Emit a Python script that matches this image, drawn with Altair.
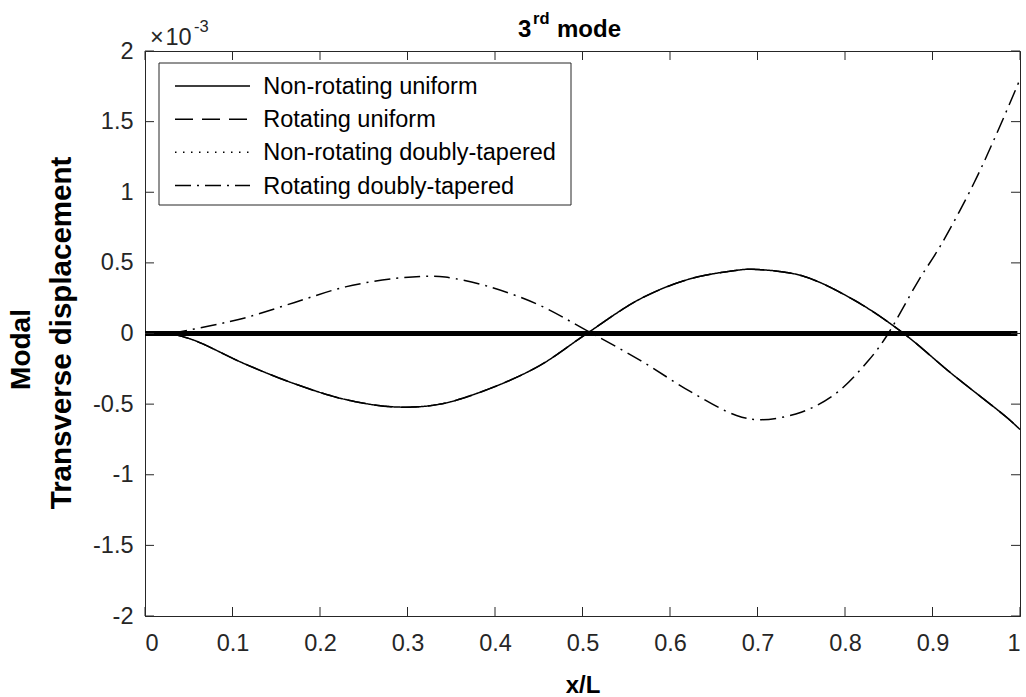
import altair as alt
import pandas as pd

# ---------------- data ----------------
series_names = ["Non-rotating uniform", "Rotating uniform",
                "Non-rotating doubly-tapered", "Rotating doubly-tapered"]
series_dashes = [[1, 0], [18, 9], [1.5, 6.5], [16, 6, 2, 6]]

# uniform beam (non-rotating and rotating curves coincide)
x_uniform = [0.03, 0.057, 0.114, 0.171, 0.229, 0.286, 0.337, 0.394, 0.451, 0.505,
             0.566, 0.623, 0.68, 0.693, 0.75, 0.808, 0.865, 0.922, 0.986, 1.0]
y_nonrot_uniform = [0.0, -0.05, -0.215, -0.356, -0.467, -0.52, -0.50, -0.39, -0.227, 0.0,
                    0.245, 0.387, 0.45, 0.455, 0.41, 0.245, 0.01, -0.285, -0.60, -0.68]
y_rot_uniform = [0.0, -0.05, -0.215, -0.356, -0.467, -0.52, -0.50, -0.39, -0.227, 0.0,
                 0.245, 0.387, 0.45, 0.455, 0.41, 0.245, 0.01, -0.285, -0.60, -0.68]

# rotating doubly-tapered beam
x_rot_tapered = [0.03, 0.076, 0.114, 0.171, 0.229, 0.286, 0.324, 0.343, 0.394, 0.451,
                 0.505, 0.566, 0.623, 0.676, 0.705, 0.75, 0.789, 0.827, 0.848, 0.884,
                 0.909, 0.947, 0.973, 1.0]
y_rot_tapered = [0.0, 0.057, 0.11, 0.22, 0.33, 0.39, 0.406, 0.40, 0.33, 0.2,
                 0.02, -0.19, -0.41, -0.58, -0.61, -0.557, -0.427, -0.19, -0.014, 0.375,
                 0.62, 1.06, 1.41, 1.80]

# thick line lying on zero
x_zero = [0.0, 0.997]
y_zero = [0.0, 0.0]

x_ticks = [0, 0.1, 0.2, 0.3, 0.4, 0.5, 0.6, 0.7, 0.8, 0.9, 1]
y_ticks = [-2, -1.5, -1, -0.5, 0, 0.5, 1, 1.5, 2]

# ---------------- layout constants ----------------
W, H = 875, 565
FONT = "Liberation Sans"
INK = "#262626"
TICK_LEN = 9

rows = []
for xv, yv in zip(x_uniform, y_nonrot_uniform):
    rows.append({"x": xv, "y": yv, "series": series_names[0]})
for xv, yv in zip(x_uniform, y_rot_uniform):
    rows.append({"x": xv, "y": yv, "series": series_names[1]})
for xv, yv in zip(x_rot_tapered, y_rot_tapered):
    rows.append({"x": xv, "y": yv, "series": series_names[3]})
df = pd.DataFrame(rows)

x_scale = alt.Scale(domain=[0, 1], nice=False, zero=False)
y_scale = alt.Scale(domain=[-2, 2], nice=False, zero=False)
x_axis = alt.Axis(values=x_ticks, labelExpr="'' + datum.value", title="x/L",
                  titleY=69, titleBaseline="middle", labelPadding=15)
y_axis = alt.Axis(values=y_ticks, labelExpr="'' + datum.value", title="",
                  labelPadding=12)

X = alt.X("x:Q", scale=x_scale, axis=x_axis)
Y = alt.Y("y:Q", scale=y_scale, axis=y_axis)

lines = alt.Chart(df).mark_line(strokeWidth=1.5, color="black",
                                interpolate="catmull-rom").encode(
    x=X, y=Y,
    strokeDash=alt.StrokeDash("series:N",
                              scale=alt.Scale(domain=series_names, range=series_dashes),
                              legend=None),
)

zero_line = alt.Chart(pd.DataFrame({"x": x_zero, "y": y_zero})).mark_line(
    strokeWidth=5, color="black").encode(x=X, y=Y)

xt = pd.DataFrame({"x": x_ticks})
yt = pd.DataFrame({"y": y_ticks})
tick_bottom = alt.Chart(xt).mark_rule(color=INK, strokeWidth=1).encode(
    x=X, y=alt.value(H), y2=alt.value(H - TICK_LEN))
tick_top = alt.Chart(xt).mark_rule(color=INK, strokeWidth=1).encode(
    x=X, y=alt.value(0), y2=alt.value(TICK_LEN))
tick_left = alt.Chart(yt).mark_rule(color=INK, strokeWidth=1).encode(
    y=Y, x=alt.value(0), x2=alt.value(TICK_LEN))
tick_right = alt.Chart(yt).mark_rule(color=INK, strokeWidth=1).encode(
    y=Y, x=alt.value(W), x2=alt.value(W - TICK_LEN))

# ---------------- legend (drawn by hand, MATLAB style) ----------------
one = pd.DataFrame({"a": [0]})
legend_box = alt.Chart(one).mark_rect(fill="white", stroke=INK, strokeWidth=1).encode(
    x=alt.value(14), x2=alt.value(426), y=alt.value(12), y2=alt.value(154))

legend_layers = [legend_box]
row_base = [43, 76.3, 109.3, 142.5]
for name, dash, base in zip(series_names, series_dashes, row_base):
    legend_layers.append(
        alt.Chart(one).mark_rule(color="black", strokeWidth=1.5, strokeDash=dash).encode(
            x=alt.value(30), x2=alt.value(105), y=alt.value(base - 8)))
    legend_layers.append(
        alt.Chart(pd.DataFrame({"label": [name]})).mark_text(
            align="left", baseline="alphabetic", font=FONT, fontSize=23.5, color="black").encode(
            x=alt.value(118.3), y=alt.value(base), text="label:N"))

# ---------------- title, y-title and exponent label ----------------
def txt(s, x, y, size, bold=False, color="black", angle=0, align="left", baseline="alphabetic"):
    return alt.Chart(pd.DataFrame({"t": [s]})).mark_text(
        align=align, baseline=baseline, font=FONT, fontSize=size, angle=angle,
        fontWeight="bold" if bold else "normal", color=color).encode(
        x=alt.value(x), y=alt.value(y), text="t:N")

title_layers = [
    txt("3", 373, -13.7, 24, True),
    txt("rd", 388, -27.3, 16.5, True),
    txt("mode", 412, -13.7, 24, True),
    txt("\u00d7", 5, -6, 23.5, False, INK),
    txt("10", 20.5, -6, 23.5, False, INK),
    txt("-3", 49, -19, 16.5, False, INK),
    txt("Modal", -123, 298.5, 28, True, "black", 270, "center", "middle"),
    txt("Transverse displacement", -83, 282, 29.5, True, "black", 270, "center", "middle"),
]

chart = alt.layer(
    lines, zero_line, tick_bottom, tick_top, tick_left, tick_right,
    *legend_layers, *title_layers
).properties(
    width=W, height=H,
    autosize=alt.AutoSizeParams(type="none"),
    padding={"left": 145, "top": 51, "right": 6, "bottom": 81},
    background="white",
).configure_view(
    stroke=INK, strokeWidth=1
).configure_axis(
    grid=False, ticks=False, domain=True, domainColor=INK, domainWidth=1,
    labelFont=FONT, labelFontSize=23.5, labelColor=INK,
    titleFont=FONT, titleFontSize=24, titleFontWeight="bold", titleColor="black",
)

chart.save("out.html", embed_options={"renderer": "svg", "actions": False})
